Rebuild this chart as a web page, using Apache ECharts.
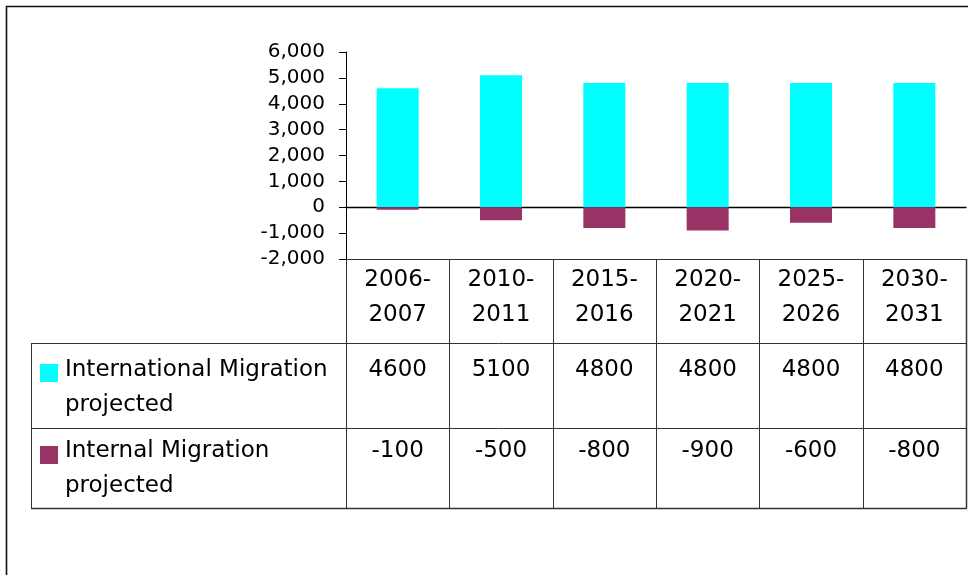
<!DOCTYPE html>
<html>
<head>
<meta charset="utf-8">
<script src="https://cdn.jsdelivr.net/npm/echarts@6/dist/echarts.min.js"></script>
<style>
  html, body { margin: 0; padding: 0; background: #fff; }
  #main { width: 968px; height: 575px; }
</style>
</head>
<body>
<div id="main"></div>
<script>
// data
var categories = ['2006-2007', '2010-2011', '2015-2016', '2020-2021', '2025-2026', '2030-2031'];
var seriesNames = ['International Migration projected', 'Internal Migration projected'];
var international = [4600, 5100, 4800, 4800, 4800, 4800];
var internal = [-100, -500, -800, -900, -600, -800];
var colors = ['#00ffff', '#993366'];

var FONT = '"DejaVu Sans", sans-serif';

// layout
var gridLeft = 346, gridRight = 966, gridTop = 52, gridBottom = 259;
var tableLeft = 31, rowTop1 = 343, rowTop2 = 428, tableBottom = 508;
var colW = (gridRight - gridLeft) / categories.length;

var myChart = echarts.init(document.getElementById('main'));

// table drawn with graphic elements, text built from the arrays
var graphic = [];
function hline(x1, x2, y, w) {
  graphic.push({ type: 'line', silent: true, shape: { x1: x1, y1: y + 0.5, x2: x2, y2: y + 0.5 },
    style: { stroke: '#333', lineWidth: w || 1 } });
}
function vline(x, y1, y2, w) {
  graphic.push({ type: 'line', silent: true, shape: { x1: Math.round(x) + 0.5, y1: y1, x2: Math.round(x) + 0.5, y2: y2 },
    style: { stroke: '#333', lineWidth: w || 1 } });
}

// outer frame (runs off the picture)
graphic.push({ type: 'rect', silent: true, shape: { x: 6.5, y: 6.5, width: 1200, height: 1200 },
  style: { fill: null, stroke: '#111', lineWidth: 1.6 } });

hline(tableLeft, gridRight, rowTop1);
hline(tableLeft, gridRight, rowTop2);
hline(tableLeft, gridRight + 1, tableBottom, 1.5);
vline(tableLeft, rowTop1, tableBottom);
for (var i = 0; i <= categories.length; i++) {
  vline(gridLeft + i * colW, gridBottom, tableBottom, i === categories.length ? 1.5 : 1);
}

var rowData = [international, internal];
var rowCenters = [387.5, 468.5];
var rowFirstLine = [370.5, 451];
rowData.forEach(function (arr, r) {
  graphic.push({ type: 'rect', silent: true, shape: { x: 40, y: r === 0 ? 364 : 446, width: 18, height: 18 },
    style: { fill: colors[r] } });
  var parts = seriesNames[r].split(' ');
  var last = parts.pop();
  graphic.push({ type: 'text', silent: true,
    style: { x: 65, y: rowCenters[r], text: parts.join(' ') + '\n' + last, font: '23px ' + FONT,
      fill: '#000', align: 'left', verticalAlign: 'middle', lineHeight: 35 } });
  arr.forEach(function (v, c) {
    graphic.push({ type: 'text', silent: true,
      style: { x: gridLeft + (c + 0.5) * colW, y: rowFirstLine[r], text: String(v), font: '23px ' + FONT,
        fill: '#000', align: 'center', verticalAlign: 'middle' } });
  });
});

myChart.setOption({
  animation: false,
  grid: { left: gridLeft, top: gridTop, width: gridRight - gridLeft, height: gridBottom - gridTop },
  xAxis: [
    {
      type: 'category', data: categories,
      axisLine: { onZero: true, lineStyle: { color: '#000', width: 1.3 } },
      axisTick: { show: false }, axisLabel: { show: false }
    },
    {
      type: 'category', data: categories, position: 'bottom',
      axisLine: { onZero: false, lineStyle: { color: '#333', width: 1 } },
      axisTick: { show: false },
      axisLabel: {
        margin: 4, fontFamily: FONT, fontSize: 23, color: '#000', lineHeight: 35,
        formatter: function (v) { return v.replace('-', '-\n'); }
      }
    }
  ],
  yAxis: {
    type: 'value', min: -2000, max: 6000, interval: 1000,
    axisLine: { show: true, lineStyle: { color: '#000' } },
    axisTick: { show: true, length: 7, lineStyle: { color: '#000' } },
    splitLine: { show: false },
    axisLabel: {
      margin: 21, fontFamily: FONT, fontSize: 20, color: '#000',
      formatter: function (v) { return v.toLocaleString('en-US'); }
    }
  },
  series: [
    { name: seriesNames[0], type: 'bar', stack: 'm', data: international, barWidth: 42,
      itemStyle: { color: colors[0] } },
    { name: seriesNames[1], type: 'bar', stack: 'm', data: internal, barWidth: 42,
      itemStyle: { color: colors[1] } }
  ],
  graphic: graphic
});
</script>
</body>
</html>
